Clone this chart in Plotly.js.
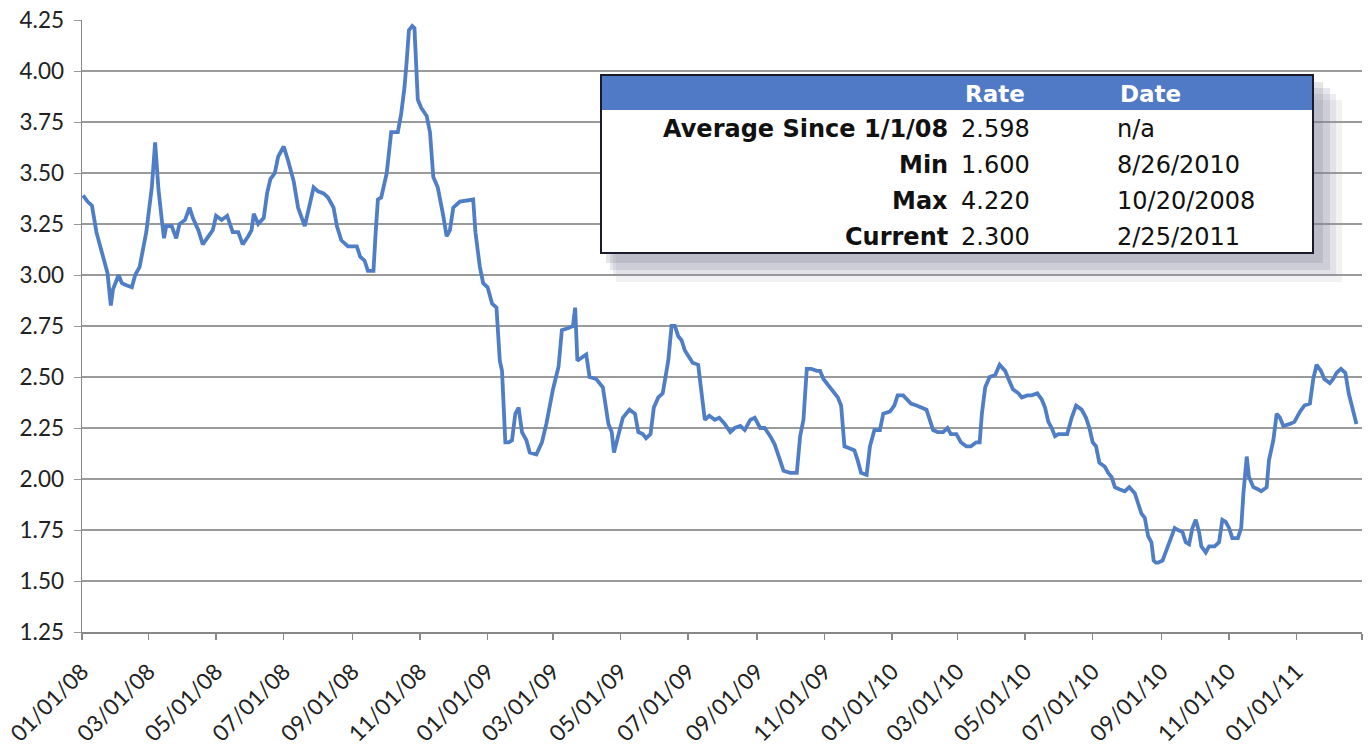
<!DOCTYPE html>
<html>
<head>
<meta charset="utf-8">
<script src="https://cdn.plot.ly/plotly-3.0.1.min.js"></script>
<style>html,body{margin:0;padding:0;background:#fff;}#chart{width:1370px;height:746px;}</style>
</head>
<body>
<div id="chart"></div>
<script>
const dates = [
"2008-01-02","2008-01-06","2008-01-10","2008-01-14","2008-01-17","2008-01-22","2008-01-24","2008-01-27","2008-01-29",
"2008-02-03","2008-02-06","2008-02-10","2008-02-15","2008-02-18","2008-02-22","2008-02-28",
"2008-03-04","2008-03-07","2008-03-10","2008-03-13","2008-03-15","2008-03-17","2008-03-22","2008-03-26","2008-03-29",
"2008-04-03","2008-04-07","2008-04-10","2008-04-15","2008-04-19","2008-04-24","2008-04-28",
"2008-05-01","2008-05-06","2008-05-11","2008-05-14","2008-05-16","2008-05-21","2008-05-25","2008-05-30",
"2008-06-02","2008-06-04","2008-06-08","2008-06-13","2008-06-16","2008-06-19","2008-06-23","2008-06-26",
"2008-07-01","2008-07-05","2008-07-10","2008-07-14","2008-07-17","2008-07-20","2008-07-23","2008-07-28",
"2008-08-01","2008-08-06","2008-08-10","2008-08-15","2008-08-18","2008-08-22","2008-08-28",
"2008-09-05","2008-09-08","2008-09-12","2008-09-15","2008-09-20","2008-09-22","2008-09-24","2008-09-27",
"2008-10-02","2008-10-06","2008-10-12","2008-10-15","2008-10-18","2008-10-20","2008-10-22","2008-10-25","2008-10-27","2008-10-30",
"2008-11-02","2008-11-07","2008-11-10","2008-11-13","2008-11-17","2008-11-22","2008-11-25","2008-11-28",
"2008-12-01","2008-12-07","2008-12-19","2008-12-21","2008-12-25","2008-12-28",
"2009-01-01","2009-01-05","2009-01-09","2009-01-12","2009-01-14","2009-01-17","2009-01-20","2009-01-23","2009-01-26","2009-01-29",
"2009-02-01","2009-02-05","2009-02-08","2009-02-14","2009-02-19","2009-02-23",
"2009-03-01","2009-03-06","2009-03-09","2009-03-15","2009-03-19","2009-03-21","2009-03-23","2009-03-31",
"2009-04-03","2009-04-09","2009-04-15","2009-04-20","2009-04-23","2009-04-25","2009-04-29",
"2009-05-03","2009-05-09","2009-05-14","2009-05-17","2009-05-21","2009-05-24","2009-05-28","2009-05-31",
"2009-06-04","2009-06-08","2009-06-13","2009-06-16","2009-06-19","2009-06-22","2009-06-25","2009-06-28",
"2009-07-02","2009-07-05","2009-07-10","2009-07-13","2009-07-16","2009-07-20","2009-07-25","2009-07-29",
"2009-08-03","2009-08-08","2009-08-12","2009-08-17","2009-08-21","2009-08-26","2009-08-30",
"2009-09-04","2009-09-08","2009-09-13","2009-09-17","2009-09-22","2009-09-25",
"2009-10-01","2009-10-07","2009-10-10","2009-10-13","2009-10-16","2009-10-20","2009-10-25","2009-10-28","2009-10-31",
"2009-11-04","2009-11-09","2009-11-13","2009-11-16","2009-11-19","2009-11-24","2009-11-28",
"2009-12-01","2009-12-04","2009-12-09","2009-12-12","2009-12-16","2009-12-21","2009-12-24","2009-12-30",
"2010-01-03","2010-01-06","2010-01-11","2010-01-14","2010-01-18","2010-01-23","2010-01-27",
"2010-02-01","2010-02-04","2010-02-07","2010-02-11","2010-02-16","2010-02-20","2010-02-23","2010-02-28",
"2010-03-04","2010-03-09","2010-03-13","2010-03-18","2010-03-21","2010-03-23","2010-03-26","2010-03-30",
"2010-04-04","2010-04-08","2010-04-13","2010-04-16","2010-04-20","2010-04-25","2010-04-28",
"2010-05-03","2010-05-07","2010-05-12","2010-05-16","2010-05-19","2010-05-22","2010-05-25","2010-05-28","2010-05-31",
"2010-06-04","2010-06-08","2010-06-12","2010-06-16","2010-06-21","2010-06-25","2010-06-28",
"2010-07-01","2010-07-04","2010-07-07","2010-07-12","2010-07-15","2010-07-18","2010-07-21","2010-07-25","2010-07-30",
"2010-08-03","2010-08-08","2010-08-11","2010-08-14","2010-08-17","2010-08-20","2010-08-23","2010-08-25","2010-08-27","2010-08-29",
"2010-09-02","2010-09-07","2010-09-10","2010-09-13","2010-09-16","2010-09-20","2010-09-23","2010-09-26","2010-09-29",
"2010-10-02","2010-10-05","2010-10-07","2010-10-11","2010-10-14","2010-10-19","2010-10-23","2010-10-26","2010-10-29",
"2010-11-01","2010-11-04","2010-11-09","2010-11-12","2010-11-14","2010-11-17","2010-11-19","2010-11-23","2010-11-27","2010-11-30",
"2010-12-05","2010-12-07","2010-12-11","2010-12-14","2010-12-17","2010-12-20","2010-12-26","2010-12-30",
"2011-01-04","2011-01-08","2011-01-13","2011-01-16","2011-01-19","2011-01-23","2011-01-26","2011-01-31",
"2011-02-03","2011-02-06","2011-02-10","2011-02-14","2011-02-17","2011-02-20","2011-02-24"
];
const rates = [
3.39,3.36,3.34,3.21,3.15,3.04,3.01,2.85,2.93,
3.00,2.96,2.95,2.94,3.00,3.04,3.21,
3.43,3.65,3.42,3.27,3.18,3.24,3.24,3.18,3.25,
3.27,3.33,3.28,3.22,3.15,3.19,3.22,
3.29,3.27,3.29,3.24,3.21,3.21,3.15,3.19,
3.22,3.30,3.25,3.28,3.40,3.47,3.50,3.58,
3.63,3.56,3.46,3.33,3.29,3.24,3.31,3.43,
3.41,3.40,3.38,3.33,3.24,3.17,3.14,
3.14,3.09,3.07,3.02,3.02,3.21,3.37,3.38,
3.50,3.70,3.70,3.79,3.92,4.05,4.20,4.22,4.21,3.86,
3.82,3.78,3.70,3.48,3.43,3.29,3.19,3.22,
3.33,3.36,3.37,3.21,3.04,2.96,
2.94,2.86,2.84,2.58,2.53,2.18,2.18,2.19,2.32,2.35,
2.23,2.19,2.13,2.12,2.18,2.27,
2.44,2.55,2.73,2.74,2.75,2.84,2.58,2.61,
2.50,2.49,2.45,2.27,2.23,2.13,2.21,
2.30,2.34,2.32,2.23,2.22,2.20,2.22,2.35,
2.40,2.42,2.58,2.75,2.75,2.70,2.68,2.63,
2.60,2.57,2.56,2.42,2.29,2.31,2.29,2.30,
2.27,2.23,2.25,2.26,2.24,2.29,2.30,
2.25,2.25,2.21,2.17,2.09,2.04,
2.03,2.03,2.21,2.29,2.54,2.54,2.53,2.53,2.49,
2.46,2.43,2.40,2.36,2.16,2.15,2.14,
2.09,2.03,2.02,2.16,2.24,2.24,2.32,2.33,
2.36,2.41,2.41,2.39,2.37,2.36,2.35,
2.34,2.29,2.24,2.23,2.23,2.25,2.22,2.22,
2.18,2.16,2.16,2.18,2.18,2.32,2.45,2.50,
2.51,2.56,2.53,2.49,2.44,2.42,2.40,
2.41,2.41,2.42,2.39,2.35,2.28,2.25,2.21,2.22,
2.22,2.22,2.30,2.36,2.34,2.30,2.25,
2.18,2.16,2.08,2.06,2.03,2.01,1.96,1.95,1.94,
1.96,1.93,1.88,1.83,1.81,1.72,1.69,1.60,1.59,1.59,
1.60,1.67,1.72,1.76,1.75,1.74,1.69,1.68,1.76,
1.80,1.74,1.67,1.64,1.67,1.67,1.69,1.80,1.79,
1.76,1.71,1.71,1.76,1.93,2.11,2.01,1.96,1.95,1.94,
1.96,2.09,2.19,2.32,2.30,2.26,2.27,2.28,
2.33,2.36,2.37,2.49,2.56,2.53,2.49,2.47,
2.49,2.52,2.54,2.52,2.42,2.36,2.27
];

// Summary table contents
const tableHeader = ["", "Rate", "Date"];
const rowLabels = ["Average Since 1/1/08", "Min", "Max", "Current"];
const rowRates = ["2.598", "1.600", "4.220", "2.300"];
const rowDates = ["n/a", "8/26/2010", "10/20/2008", "2/25/2011"];

const W = 1370, H = 746;
const L = 82, R = 1362, T = 20, B = 632;
const px = x => (x - L) / (R - L);
const py = y => (B - y) / (B - T);

const shapes = [
  // soft shadow (layered)
  {type:'rect', xref:'paper', yref:'paper', x0:px(616), x1:px(1342), y0:py(100), y1:py(282), line:{width:0}, fillcolor:'rgba(150,150,175,0.12)'},
  {type:'rect', xref:'paper', yref:'paper', x0:px(613), x1:px(1336), y0:py(94), y1:py(276), line:{width:0}, fillcolor:'rgba(140,140,165,0.16)'},
  {type:'rect', xref:'paper', yref:'paper', x0:px(610), x1:px(1330), y0:py(88), y1:py(270), line:{width:0}, fillcolor:'rgba(130,130,155,0.2)'},
  {type:'rect', xref:'paper', yref:'paper', x0:px(606), x1:px(1323), y0:py(82), y1:py(263), line:{width:0}, fillcolor:'rgba(120,120,145,0.2)'},
  // box
  {type:'rect', xref:'paper', yref:'paper', x0:px(601), x1:px(1313), y0:py(75), y1:py(253), line:{width:2, color:'#1a1a2a'}, fillcolor:'#ffffff'},
  {type:'rect', xref:'paper', yref:'paper', x0:px(602), x1:px(1312), y0:py(76), y1:py(110), line:{width:0}, fillcolor:'#5079c6'}
];

const annotations = [];
const tfam = 'DejaVu Sans, Verdana, sans-serif';
const fnt = {family:tfam, size:24, color:'#111'};
annotations.push({xref:'paper', yref:'paper', x:px(995), y:py(94), xanchor:'center', yanchor:'middle', showarrow:false,
  text:'<b>'+tableHeader[1]+'</b>', font:{family:tfam, size:23, color:'#ffffff'}});
annotations.push({xref:'paper', yref:'paper', x:px(1118), y:py(94), xanchor:'left', yanchor:'middle', showarrow:false,
  text:'<b>'+tableHeader[2]+'</b>', font:{family:tfam, size:23, color:'#ffffff'}});
const rowY = [129, 165, 201, 237];
for (let i = 0; i < rowLabels.length; i++) {
  annotations.push({xref:'paper', yref:'paper', x:px(950), y:py(rowY[i]), xanchor:'right', yanchor:'middle', showarrow:false,
    text:'<b>'+rowLabels[i]+'</b>', font:fnt});
  annotations.push({xref:'paper', yref:'paper', x:px(959), y:py(rowY[i]), xanchor:'left', yanchor:'middle', showarrow:false,
    text:rowRates[i], font:fnt});
  annotations.push({xref:'paper', yref:'paper', x:px(1115), y:py(rowY[i]), xanchor:'left', yanchor:'middle', showarrow:false,
    text:rowDates[i], font:fnt});
}

const trace = {
  x: dates, y: rates, type:'scatter', mode:'lines',
  line:{color:'#4f7ec7', width:3.8, shape:'linear'},
  hoverinfo:'x+y'
};

const layout = {
  width: W, height: H,
  margin:{l:L, r:W-R, t:T, b:H-B},
  paper_bgcolor:'#ffffff', plot_bgcolor:'#ffffff',
  showlegend:false,
  font:{family:'Lato, Carlito, sans-serif', color:'#222'},
  xaxis:{
    type:'date', range:['2008-01-01','2011-03-01'],
    tick0:'2008-01-01', dtick:'M2', tickformat:'%m/%d/%y',
    tickangle:-45, tickfont:{size:22.5, color:'#222'},
    showgrid:false, zeroline:false,
    showline:true, linecolor:'#888', linewidth:1.5,
    ticks:'outside', ticklen:6, tickcolor:'#888', tickwidth:1.5,
    ticklabelstandoff:10
  },
  yaxis:{
    range:[1.25, 4.25], tick0:1.25, dtick:0.25, tickformat:'.2f',
    tickfont:{size:22.5, color:'#222'},
    showgrid:true, gridcolor:'#9a9a9a', gridwidth:1.3,
    zeroline:false, showline:true, linecolor:'#888', linewidth:1.5,
    ticks:'outside', ticklen:7, tickcolor:'#999', ticklabelstandoff:5
  },
  shapes: shapes,
  annotations: annotations
};

Plotly.newPlot('chart', [trace], layout, {displayModeBar:false, staticPlot:true});
</script>
</body>
</html>
